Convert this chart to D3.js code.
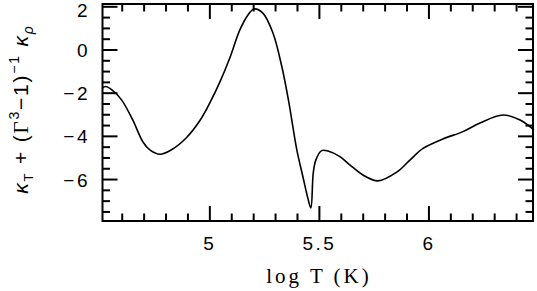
<!DOCTYPE html>
<html><head><meta charset="utf-8">
<script src="https://cdn.jsdelivr.net/npm/d3@7"></script>
<style>body{margin:0;background:#fff}svg{display:block}</style>
</head><body>
<svg id="c" width="537" height="291"></svg>
<script>
const logT = [4.509,4.525,4.553,4.597,4.648,4.694,4.726,4.772,4.825,4.894,4.954,5.0,5.046,5.091,5.137,5.174,5.201,5.242,5.288,5.329,5.361,5.397,5.425,5.447,5.461,5.472,5.484,5.510,5.539,5.594,5.639,5.699,5.767,5.853,5.913,5.973,6.064,6.155,6.233,6.338,6.416,6.479];
const kappa = [-1.76,-1.69,-1.85,-2.31,-3.24,-4.25,-4.63,-4.83,-4.62,-4.05,-3.28,-2.45,-1.48,-0.37,0.93,1.62,1.90,1.71,0.79,-0.79,-2.45,-4.63,-5.88,-6.85,-7.31,-5.69,-5.09,-4.66,-4.68,-4.94,-5.32,-5.79,-6.06,-5.66,-5.10,-4.56,-4.12,-3.78,-3.38,-3.01,-3.24,-3.70];
const xMajor = [5, 5.5, 6];
const xMajorLabels = ["5", "5.5", "6"];
const xMinor = [4.6,4.7,4.8,4.9,5.1,5.2,5.3,5.4,5.6,5.7,5.8,5.9,6.1,6.2,6.3,6.4];
const yMajor = [2, 0, -2, -4, -6];
const yMajorLabels = ["2", "0", "\u22122", "\u22124", "\u22126"];
const yMinor = [1.5,1,0.5,-0.5,-1,-1.5,-2.5,-3,-3.5,-4.5,-5,-5.5,-6.5,-7,-7.5];

const L = 102.5, R = 533, T = 4, B = 221;
const x = d3.scaleLinear().domain([4.51, 6.475]).range([L, R]);
const y = d3.scaleLinear().domain([-7.92, 2.13]).range([B, T]);
const svg = d3.select("#c");

const majLen = 15, minLen = 7.5;
const g = svg.append("g").attr("stroke", "#000").attr("stroke-width", 2);
[[xMajor, majLen], [xMinor, minLen]].forEach(([arr, len]) => {
  arr.forEach(v => {
    g.append("line").attr("x1", x(v)).attr("x2", x(v)).attr("y1", B).attr("y2", B - len);
    g.append("line").attr("x1", x(v)).attr("x2", x(v)).attr("y1", T).attr("y2", T + len);
  });
});
[[yMajor, majLen], [yMinor, minLen]].forEach(([arr, len]) => {
  arr.forEach(v => {
    g.append("line").attr("y1", y(v)).attr("y2", y(v)).attr("x1", L).attr("x2", L + len);
    g.append("line").attr("y1", y(v)).attr("y2", y(v)).attr("x1", R).attr("x2", R - len);
  });
});

const line = d3.line().x((d, i) => x(logT[i])).y(d => y(d)).curve(d3.curveCatmullRom.alpha(0.5));
svg.append("path").attr("d", line(kappa)).attr("fill", "none").attr("stroke", "#000").attr("stroke-width", 1.6);

svg.append("rect").attr("x", L).attr("y", T).attr("width", R - L).attr("height", B - T)
  .attr("fill", "none").attr("stroke", "#000").attr("stroke-width", 2);

const lab = svg.append("g").attr("font-family", "Liberation Sans, Arial, sans-serif").attr("font-size", 19).attr("fill", "#000");
xMajor.forEach((v, i) => {
  lab.append("text").attr("x", x(v)).attr("y", 250).attr("text-anchor", "middle")
    .attr("letter-spacing", 2.5).text(xMajorLabels[i]);
});
yMajor.forEach((v, i) => {
  lab.append("text").attr("x", 90).attr("y", y(v) + 7 + (v === 2 ? 3 : 0)).attr("text-anchor", "end")
    .attr("letter-spacing", 2.5).text(yMajorLabels[i]);
});

svg.append("text").attr("x", 319).attr("y", 283).attr("text-anchor", "middle")
  .attr("font-family", "Liberation Serif, serif").attr("font-size", 21).attr("letter-spacing", 3)
  .text("log T (K)");

const yt = svg.append("text").attr("transform", "translate(28,109) rotate(-90)").attr("text-anchor", "middle")
  .attr("font-family", "Liberation Sans, Arial, sans-serif").attr("font-size", 21).attr("letter-spacing", 1.8);
yt.append("tspan").attr("font-style", "italic").text("\u03BA");
yt.append("tspan").attr("font-size", 13).attr("dy", 5).text("T");
yt.append("tspan").attr("dy", -5).text(" + (");
yt.append("tspan").attr("font-family", "Liberation Serif, serif").text("\u0393");
yt.append("tspan").attr("font-size", 14).attr("dy", -9).text("3");
yt.append("tspan").attr("dy", 9).text("\u22121)");
yt.append("tspan").attr("font-size", 14).attr("dy", -9).text("\u22121");
yt.append("tspan").attr("dy", 9).attr("font-style", "italic").text(" \u03BA");
yt.append("tspan").attr("font-size", 14).attr("dy", 5).attr("font-style", "italic").text("\u03C1");
</script>
</body></html>
